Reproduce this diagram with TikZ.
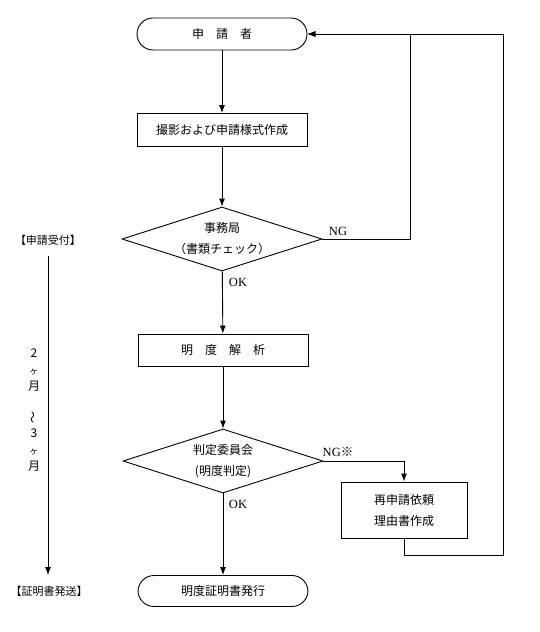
\documentclass[tikz,border=0pt]{standalone}
\usepackage{fontspec}
\setmainfont{Noto Sans CJK JP}
\newfontfamily\latinserif{Liberation Serif}
\usetikzlibrary{shapes.geometric,arrows.meta}

\begin{document}
\begin{tikzpicture}[
    x=1pt, y=-1pt,
    line width=0.9pt,
    font=\fontsize{12}{21}\selectfont,
    flow/.style={-{Latex[length=8pt,width=6pt]}},
    terminal/.style={draw, rectangle, rounded corners=16pt, minimum width=170pt, minimum height=32pt, inner sep=0pt},
    process/.style={draw, rectangle, minimum width=170pt, minimum height=33pt, inner sep=0pt, align=center},
    decision/.style={draw, diamond, aspect=3.1, minimum width=200pt, minimum height=64pt, inner sep=0pt, align=center},
    answer/.style={font=\latinserif\fontsize{12.5}{14}\selectfont},
    side/.style={font=\fontsize{11}{13}\selectfont}
]

% Cadre de la figure
\useasboundingbox (0,0) rectangle (540,632);

% Etapes principales
\node[terminal] (applicant) at (222,34) {申　請　者};
\node[process] (photo) at (222,130) {撮影および申請様式作成};
\node[decision] (office) at (222,239) {事務局\\（書類チェック）};
\node[process, minimum height=32pt] (analysis) at (223,350) {明　度　解　析};
\node[decision] (committee) at (223,461) {判定委員会\\(明度判定)};
\node[terminal, minimum height=31pt] (issue) at (223,591) {明度証明書発行};
\node[process, minimum width=126pt, minimum height=56pt] (reason) at (404,510) {再申請依頼\\理由書作成};

% Etiquettes OK / NG
\node[answer] (ok1) at (238,282) {OK};
\node[answer] (ok2) at (238,504) {OK};
\node[answer] (ng1) at (338,231) {NG};
\node[answer] (ng2) at (338,452) {NG\normalfont※};

% Fleches du processus
\draw[flow] (applicant) -- (photo);
\draw[flow] (photo) -- (office);
\draw[flow] (office) -- (analysis);
\draw[flow] (analysis) -- (committee);
\draw[flow] (committee) -- (issue);
\draw[flow] (committee.east) -| (reason.north);

% Retours vers le demandeur
\coordinate (loopin) at (410,34);
\coordinate (loopout) at (503,555);
\draw[flow] (office.east) -| (loopin) -- (applicant.east);
\draw[flow] (reason.south) |- (loopout) |- (applicant.east);

% Delai a gauche
\node[side] (received) at (48,240) {【申請受付】};
\node[side] (sent) at (49,591) {【証明書発送】};
\draw[flow, shorten <=7pt, shorten >=7pt] (received.south) -- (received.south |- sent.north);

\node (m1) at (34,353) {2};
\node[font=\fontsize{9}{10}\selectfont] (m2) at (34,372) {ヶ};
\node (m3) at (34,386) {月};
\node[rotate=90] (m4) at (34,417) {～};
\node (m5) at (34,433) {3};
\node[font=\fontsize{9}{10}\selectfont] (m6) at (34,452) {ヶ};
\node (m7) at (34,466) {月};

\end{tikzpicture}
\end{document}
